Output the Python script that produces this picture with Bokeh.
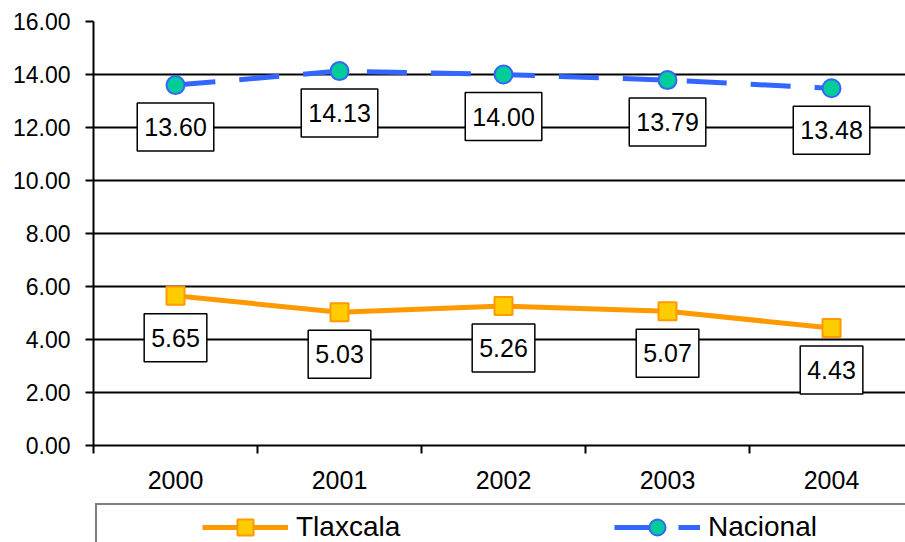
from bokeh.plotting import figure
from bokeh.layouts import column
from bokeh.models import (Range1d, FixedTicker, Label, Legend, LegendItem,
                          NumeralTickFormatter)
from bokeh.embed import file_html
from bokeh.resources import INLINE

# ---- data ----
years = ["2000", "2001", "2002", "2003", "2004"]
tlaxcala = [5.65, 5.03, 5.26, 5.07, 4.43]
nacional = [13.60, 14.13, 14.00, 13.79, 13.48]
y_ticks = [0, 2, 4, 6, 8, 10, 12, 14, 16]

FONT = "Liberation Sans"
xpos = [i + 0.5 for i in range(len(years))]
bounds = list(range(len(years) + 1))

T_STYLE = dict(line_color="#FF9900", line_width=5)
T_MARK = dict(marker="square", size=18, fill_color="#FFCC00", line_color="#FF9900", line_width=2)
N_STYLE = dict(line_color="#3366FF", line_width=5, line_dash="40 24")
N_MARK = dict(marker="circle", size=18, fill_color="#00CC99", line_color="#3366FF", line_width=2)

p = figure(width=905, height=497, x_range=Range1d(0, 4.951), y_range=Range1d(0, 16),
           output_backend="svg", toolbar_location=None,
           min_border_left=93, min_border_top=21, min_border_right=0, min_border_bottom=52)
p.outline_line_color = None
p.background_fill_color = "white"
p.border_fill_color = "white"

# x axis
p.xaxis.ticker = FixedTicker(ticks=xpos, minor_ticks=bounds)
p.xaxis.major_label_overrides = {x: y for x, y in zip(xpos, years)}
p.xaxis.major_tick_out = 0
p.xaxis.major_tick_in = 0
p.xaxis.minor_tick_out = 8
p.xaxis.minor_tick_in = 0
p.xaxis.minor_tick_line_width = 2
p.xaxis.minor_tick_line_color = "black"
p.xaxis.axis_line_width = 2
p.xaxis.axis_line_color = "black"
p.xaxis.major_label_standoff = 17
p.xaxis.major_label_text_font = FONT
p.xaxis.major_label_text_font_size = "25px"
p.xaxis.major_label_text_color = "black"
p.xgrid.visible = False

# y axis
p.yaxis.ticker = FixedTicker(ticks=y_ticks)
p.yaxis.formatter = NumeralTickFormatter(format="0.00")
p.yaxis.major_tick_out = 8
p.yaxis.major_tick_in = 0
p.yaxis.major_tick_line_width = 2
p.yaxis.major_tick_line_color = "black"
p.yaxis.minor_tick_line_color = None
p.yaxis.axis_line_width = 2
p.yaxis.axis_line_color = "black"
p.yaxis.major_label_standoff = 15
p.yaxis.major_label_text_font = FONT
p.yaxis.major_label_text_font_size = "23px"
p.yaxis.major_label_text_color = "black"
p.ygrid.grid_line_color = "black"
p.ygrid.grid_line_width = 2

# series
p.line(xpos, tlaxcala, **T_STYLE)
p.scatter(xpos, tlaxcala, **T_MARK)
p.line(xpos, nacional, **N_STYLE)
p.scatter(xpos, nacional, **N_MARK)

# data labels
for series in (tlaxcala, nacional):
    for x, v in zip(xpos, series):
        p.add_layout(Label(x=x, y=v, text=f"{v:.2f}", y_offset=-42,
                           text_align="center", text_baseline="middle",
                           text_font=FONT, text_font_size="25px", text_color="black",
                           background_fill_color="white", border_line_color="black",
                           border_line_width=1.5, padding=(7, 15)))

# legend strip (a second figure below, holding only the legend)
lg = figure(width=905, height=45, x_range=Range1d(0, 4.951), y_range=Range1d(100, 101),
            output_backend="svg", toolbar_location=None,
            min_border_left=0, min_border_top=0, min_border_right=0, min_border_bottom=0)
lg.axis.visible = False
lg.grid.visible = False
lg.outline_line_color = None
lg.border_fill_color = "white"
t_line = lg.line(xpos, tlaxcala, **T_STYLE)
t_pts = lg.scatter(xpos, tlaxcala, **T_MARK)
n_line = lg.line(xpos, nacional, **N_STYLE)
n_pts = lg.scatter(xpos, nacional, **N_MARK)

legend = Legend(items=[LegendItem(label="Tlaxcala", renderers=[t_line, t_pts]),
                       LegendItem(label="Nacional", renderers=[n_line, n_pts])],
                orientation="horizontal", location=(2, -9),
                title=" ", title_location="left", title_standoff=92,
                title_text_font_size="10px",
                padding=2, margin=0, spacing=18, glyph_width=86, glyph_height=40,
                label_width=300, label_standoff=8,
                label_text_font=FONT, label_text_font_size="28px", label_text_color="black",
                border_line_color="black", border_line_width=2,
                background_fill_color="white")
lg.add_layout(legend)

open("out.html", "w").write(file_html(column(p, lg, spacing=0), INLINE))
